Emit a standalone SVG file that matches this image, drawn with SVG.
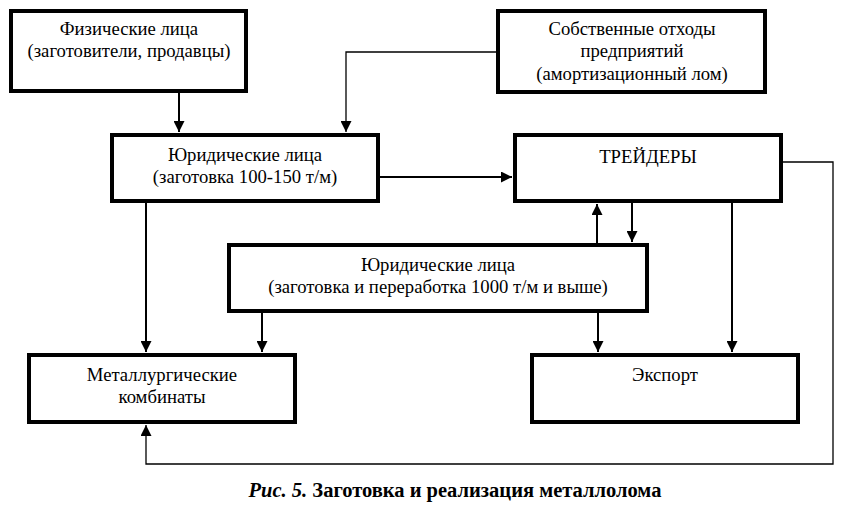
<svg xmlns="http://www.w3.org/2000/svg" width="847" height="511" viewBox="0 0 847 511">
<style>
.box{fill:#fff;stroke:#000;stroke-width:4}
.t{font-family:"Liberation Serif","DejaVu Serif",serif;font-size:18.7px;fill:#000;text-anchor:middle}
.c{fill:none;stroke:#000;stroke-width:2}
.thin{fill:none;stroke:#000;stroke-width:1.3}
.cap{font-family:"Liberation Serif","DejaVu Serif",serif;font-size:20.5px;font-weight:bold;fill:#000;text-anchor:middle}
</style>
<defs>
<marker id="ah" markerUnits="userSpaceOnUse" markerWidth="11" markerHeight="11" refX="11" refY="5.5" orient="auto">
<path d="M0,0 L11,5.5 L0,11 z" fill="#000"/>
</marker>
</defs>
<rect width="847" height="511" fill="#fff"/>
<g id="connectors">
<path class="c" d="M179,93 V132" marker-end="url(#ah)"/>
<path class="thin" d="M496,52 H346 V132" marker-end="url(#ah)"/>
<path class="c" d="M380,177 H512" marker-end="url(#ah)"/>
<path class="c" d="M597,243 V204" marker-end="url(#ah)"/>
<path class="c" d="M632,203 V242" marker-end="url(#ah)"/>
<path class="c" d="M732,203 V352" marker-end="url(#ah)"/>
<path class="c" d="M146,203 V352" marker-end="url(#ah)"/>
<path class="c" d="M262,313 V352" marker-end="url(#ah)"/>
<path class="c" d="M598,313 V352" marker-end="url(#ah)"/>
<path class="thin" d="M783,162 H833 V464 H146 V425" marker-end="url(#ah)"/>
</g>
<g id="fiz">
<rect class="box" x="11" y="11" width="235" height="80"/>
<text class="t" x="129" y="35">Физические лица</text>
<text class="t" x="129" y="57">(заготовители, продавцы)</text>
</g>
<g id="sobst">
<rect class="box" x="498" y="11" width="267" height="81"/>
<text class="t" x="632" y="35">Собственные отходы</text>
<text class="t" x="632" y="57">предприятий</text>
<text class="t" x="632" y="80">(амортизационный лом)</text>
</g>
<g id="yur1">
<rect class="box" x="112" y="135" width="266" height="66"/>
<text class="t" x="245" y="161">Юридические лица</text>
<text class="t" x="245" y="183">(заготовка 100-150 т/м)</text>
</g>
<g id="traders">
<rect class="box" x="515" y="135" width="266" height="66"/>
<text class="t" x="648" y="163">ТРЕЙДЕРЫ</text>
</g>
<g id="yur2">
<rect class="box" x="229" y="245" width="418" height="66"/>
<text class="t" x="438" y="271">Юридические лица</text>
<text class="t" x="438" y="293">(заготовка и переработка 1000 т/м и выше)</text>
</g>
<g id="metal">
<rect class="box" x="29" y="355" width="266" height="67"/>
<text class="t" x="162" y="381">Металлургические</text>
<text class="t" x="162" y="403">комбинаты</text>
</g>
<g id="export">
<rect class="box" x="532" y="355" width="266" height="67"/>
<text class="t" x="665" y="381">Экспорт</text>
</g>
<text class="cap" x="455" y="497"><tspan font-style="italic">Рис. 5.</tspan> Заготовка и реализация металлолома</text>
</svg>
